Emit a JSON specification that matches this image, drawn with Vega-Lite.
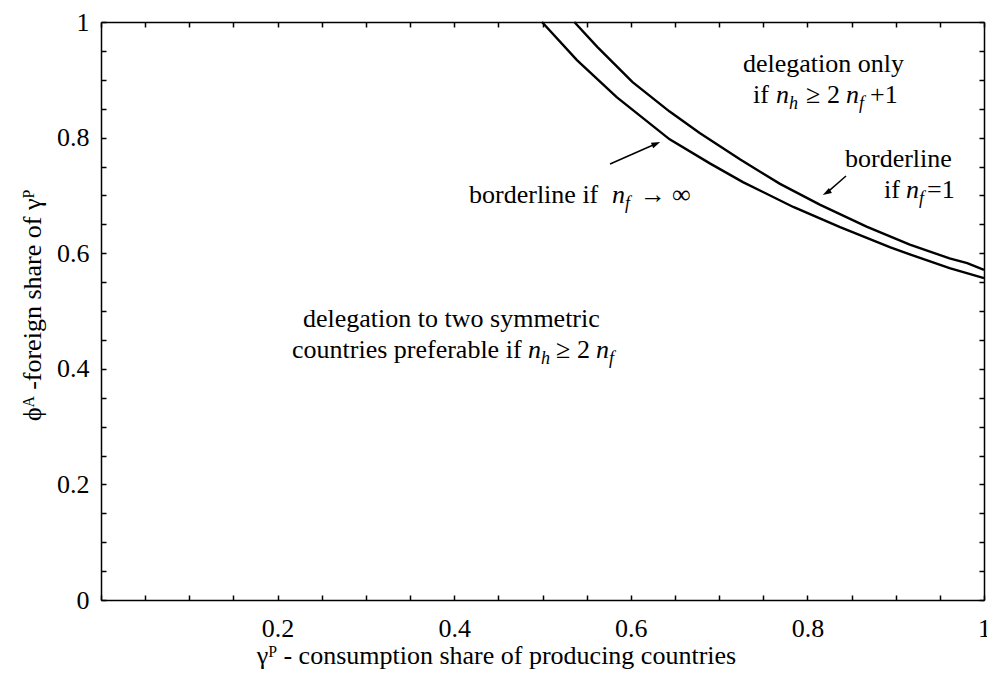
{
  "$schema": "https://vega.github.io/schema/vega-lite/v6.json",
  "width": 883,
  "height": 578,
  "autosize": {"type": "none"},
  "padding": {"left": 101, "top": 22, "right": 3, "bottom": 73},
  "background": "white",
  "config": {
    "view": {"stroke": null},
    "font": "'Liberation Serif', 'Times New Roman', Times, serif",
    "axis": {
      "grid": false,
      "domainColor": "black",
      "domainWidth": 1.5,
      "tickColor": "black",
      "tickWidth": 1.5,
      "tickSize": -5,
      "labelFont": "'Liberation Serif', 'Times New Roman', Times, serif",
      "labelFontSize": 26,
      "labelColor": "black",
      "titleFont": "'Liberation Serif', 'Times New Roman', Times, serif",
      "titleFontSize": 26,
      "titleFontWeight": "normal",
      "titleColor": "black",
      "labelOverlap": false,
      "labelFlush": false,
      "values": [0,0.04,0.08,0.12,0.16,0.2,0.24,0.28,0.32,0.36,0.4,0.44,0.48,0.52,0.56,0.6,0.64,0.68,0.72,0.76,0.8,0.84,0.88,0.92,0.96,1]
    }
  },
  "datasets": {
    "curves": [
      {"g": "inf", "x": 0.4994, "y": 1.0},
      {"g": "inf", "x": 0.539, "y": 0.934},
      {"g": "inf", "x": 0.584, "y": 0.870},
      {"g": "inf", "x": 0.644, "y": 0.797},
      {"g": "inf", "x": 0.690, "y": 0.755},
      {"g": "inf", "x": 0.727, "y": 0.723},
      {"g": "inf", "x": 0.784, "y": 0.680},
      {"g": "inf", "x": 0.837, "y": 0.645},
      {"g": "inf", "x": 0.894, "y": 0.610},
      {"g": "inf", "x": 0.916, "y": 0.598},
      {"g": "inf", "x": 0.961, "y": 0.574},
      {"g": "inf", "x": 1.0, "y": 0.557},
      {"g": "one", "x": 0.536, "y": 1.0},
      {"g": "one", "x": 0.562, "y": 0.957},
      {"g": "one", "x": 0.602, "y": 0.896},
      {"g": "one", "x": 0.644, "y": 0.845},
      {"g": "one", "x": 0.678, "y": 0.808},
      {"g": "one", "x": 0.724, "y": 0.762},
      {"g": "one", "x": 0.769, "y": 0.720},
      {"g": "one", "x": 0.814, "y": 0.684},
      {"g": "one", "x": 0.867, "y": 0.646},
      {"g": "one", "x": 0.916, "y": 0.615},
      {"g": "one", "x": 0.961, "y": 0.591},
      {"g": "one", "x": 0.981, "y": 0.583},
      {"g": "one", "x": 1.0, "y": 0.571}
    ],
    "roman": [
      {"x": 0.7271, "y": 0.9135, "t": "delegation only"},
      {"x": 0.7384, "y": 0.8599, "t": "if"},
      {"x": 0.7985, "y": 0.8599, "t": "≥"},
      {"x": 0.8222, "y": 0.8599, "t": "2"},
      {"x": 0.8710, "y": 0.8599, "t": "+1"},
      {"x": 0.8426, "y": 0.7491, "t": "borderline"},
      {"x": 0.8867, "y": 0.6955, "t": "if"},
      {"x": 0.9355, "y": 0.6955, "t": "=1"},
      {"x": 0.4168, "y": 0.6869, "t": "borderline if"},
      {"x": 0.6105, "y": 0.6869, "t": "→"},
      {"x": 0.6467, "y": 0.6869, "t": "∞"},
      {"x": 0.2288, "y": 0.4723, "t": "delegation to two symmetric"},
      {"x": 0.2163, "y": 0.4187, "t": "countries preferable if"},
      {"x": 0.5153, "y": 0.4187, "t": "≥"},
      {"x": 0.5390, "y": 0.4187, "t": "2"}
    ],
    "italic": [
      {"x": 0.7644, "y": 0.8599, "t": "n"},
      {"x": 0.8437, "y": 0.8599, "t": "n"},
      {"x": 0.9117, "y": 0.6955, "t": "n"},
      {"x": 0.5787, "y": 0.6869, "t": "n"},
      {"x": 0.4836, "y": 0.4187, "t": "n"},
      {"x": 0.5606, "y": 0.4187, "t": "n"}
    ],
    "sub": [
      {"x": 0.7792, "y": 0.8599, "t": "h"},
      {"x": 0.8584, "y": 0.8599, "t": "f"},
      {"x": 0.9264, "y": 0.6955, "t": "f"},
      {"x": 0.5934, "y": 0.6869, "t": "f"},
      {"x": 0.4983, "y": 0.4187, "t": "h"},
      {"x": 0.5753, "y": 0.4187, "t": "f"}
    ],
    "shafts": [
      {"a": "a1", "x": 0.5765, "y": 0.7543},
      {"a": "a1", "x": 0.6279, "y": 0.7889},
      {"a": "a2", "x": 0.8437, "y": 0.7336},
      {"a": "a2", "x": 0.8225, "y": 0.7052}
    ],
    "heads": [
      {"a": "a1", "x": 0.6279, "y": 0.7889},
      {"a": "a2", "x": 0.8225, "y": 0.7052}
    ]
  },
  "layer": [
    {
      "data": {"name": "curves"},
      "mark": {"type": "line", "color": "black", "strokeWidth": 2.4},
      "encoding": {
        "x": {"field": "x", "type": "quantitative", "scale": {"domain": [0, 1], "nice": false, "zero": false},
          "axis": {"orient": "bottom", "title": "γᴾ - consumption share of producing countries", "titleX": 395, "titleY": 63, "titleBaseline": "alphabetic", "labelPadding": 20,
            "labelExpr": "datum.value > 0.001 && abs(datum.value*5 - round(datum.value*5)) < 0.001 ? format(datum.value, '~g') : ''"}},
        "y": {"field": "y", "type": "quantitative", "scale": {"domain": [0, 1], "nice": false, "zero": false},
          "axis": {"orient": "left", "title": "ϕᴬ -foreign share of γᴾ", "titleX": -61, "titleY": 283, "titleAngle": 270, "titleBaseline": "alphabetic", "labelPadding": 17,
            "labelExpr": "abs(datum.value*5 - round(datum.value*5)) < 0.001 ? format(datum.value, '~g') : ''"}},
        "detail": {"field": "g"}
      }
    },
    {
      "data": {"name": "shafts"},
      "mark": {"type": "line", "color": "black", "strokeWidth": 1.5},
      "encoding": {
        "x": {"field": "x", "type": "quantitative", "scale": {"domain": [0, 1], "nice": false, "zero": false},
          "axis": {"orient": "top", "labels": false, "title": null}},
        "y": {"field": "y", "type": "quantitative", "scale": {"domain": [0, 1], "nice": false, "zero": false},
          "axis": {"orient": "right", "labels": false, "title": null}},
        "detail": {"field": "a"}
      }
    },
    {
      "data": {"name": "heads"},
      "transform": [{"filter": "datum.a == 'a1'"}],
      "mark": {"type": "point", "shape": "M0,-1L0.55,0.7L-0.55,0.7Z", "filled": true, "color": "black", "opacity": 1, "size": 110, "angle": 66},
      "encoding": {
        "x": {"field": "x", "type": "quantitative", "axis": null},
        "y": {"field": "y", "type": "quantitative", "axis": null}
      }
    },
    {
      "data": {"name": "heads"},
      "transform": [{"filter": "datum.a == 'a2'"}],
      "mark": {"type": "point", "shape": "M0,-1L0.55,0.7L-0.55,0.7Z", "filled": true, "color": "black", "opacity": 1, "size": 110, "angle": 239},
      "encoding": {
        "x": {"field": "x", "type": "quantitative", "axis": null},
        "y": {"field": "y", "type": "quantitative", "axis": null}
      }
    },
    {
      "data": {"name": "roman"},
      "mark": {"type": "text", "font": "'Liberation Serif', 'Times New Roman', Times, serif", "fontSize": 26, "align": "left", "baseline": "alphabetic", "color": "black"},
      "encoding": {
        "x": {"field": "x", "type": "quantitative", "axis": null},
        "y": {"field": "y", "type": "quantitative", "axis": null},
        "text": {"field": "t"}
      }
    },
    {
      "data": {"name": "italic"},
      "mark": {"type": "text", "font": "'Liberation Serif', 'Times New Roman', Times, serif", "fontSize": 26, "fontStyle": "italic", "align": "left", "baseline": "alphabetic", "color": "black"},
      "encoding": {
        "x": {"field": "x", "type": "quantitative", "axis": null},
        "y": {"field": "y", "type": "quantitative", "axis": null},
        "text": {"field": "t"}
      }
    },
    {
      "data": {"name": "sub"},
      "mark": {"type": "text", "font": "'Liberation Serif', 'Times New Roman', Times, serif", "fontSize": 18, "fontStyle": "italic", "align": "left", "baseline": "alphabetic", "dy": 6, "color": "black"},
      "encoding": {
        "x": {"field": "x", "type": "quantitative", "axis": null},
        "y": {"field": "y", "type": "quantitative", "axis": null},
        "text": {"field": "t"}
      }
    }
  ],
  "resolve": {"axis": {"x": "independent", "y": "independent"}}
}
